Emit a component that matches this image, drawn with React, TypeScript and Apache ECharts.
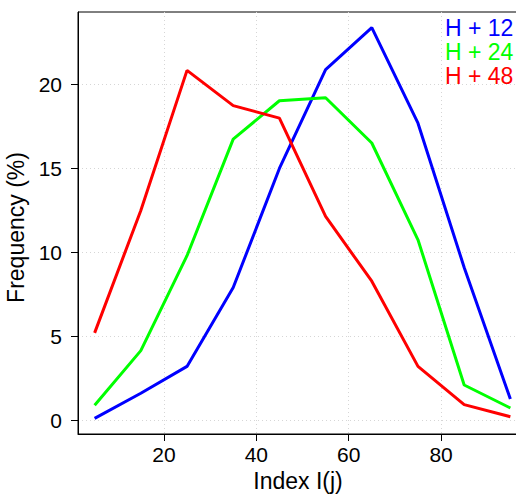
import React, { useEffect, useRef } from "react";
import * as echarts from "echarts";

const indexValues = [5, 15, 25, 35, 45, 55, 65, 75, 85, 95];
const seriesNames = ["H + 12", "H + 24", "H + 48"];
const h12 = [0.1, 1.6, 3.2, 7.9, 15.0, 20.9, 23.4, 17.7, 9.1, 1.25];
const h24 = [0.88, 4.14, 9.8, 16.75, 19.04, 19.22, 16.52, 10.75, 2.09, 0.72];
const h48 = [5.2, 12.5, 20.85, 18.75, 18.0, 12.14, 8.28, 3.2, 0.92, 0.2];
const xTicks = [20, 40, 60, 80];
const yTicks = [0, 5, 10, 15, 20];
const colors = ["#0000ff", "#00ff00", "#ff0000"];

const FONT = "'Liberation Sans', Arial, Helvetica, sans-serif";

export default function App() {
  const ref = useRef<HTMLDivElement>(null);
  useEffect(() => {
    if (!ref.current) return;
    const chart = echarts.init(ref.current, undefined, { renderer: "svg" });
    const allSeries = [h12, h24, h48];
    chart.setOption({
      animation: false,
      backgroundColor: "#ffffff",
      textStyle: { fontFamily: FONT },
      grid: {
        left: 78,
        top: 12,
        width: 449,
        bottom: 60,
        containLabel: false,
        outerBoundsMode: "none",
        show: true,
        borderColor: "#000000",
        borderWidth: 1,
        backgroundColor: "transparent",
      },
      legend: {
        orient: "vertical",
        left: 440,
        top: 16,
        padding: 0,
        itemGap: 1,
        itemWidth: 0,
        itemHeight: 0,
        selectedMode: false,
        data: seriesNames.map((n, i) => ({
          name: n,
          icon: "rect",
          itemStyle: { opacity: 0 },
          textStyle: {
            color: colors[i],
            fontSize: 23,
            lineHeight: 22,
            fontFamily: FONT,
          },
        })),
      },
      xAxis: {
        type: "value",
        min: 1.4,
        max: 98.6,
        name: "Index I(j)",
        nameLocation: "middle",
        nameGap: 33,
        nameTextStyle: {
          fontSize: 23,
          color: "#000",
          fontFamily: FONT,
          padding: [0, 9, 0, 0],
        },
        axisLine: { show: true, onZero: false, lineStyle: { color: "#000", width: 1 } },
        axisTick: {
          show: true,
          length: 7,
          customValues: xTicks,
          lineStyle: { color: "#000", width: 1 },
        },
        axisLabel: {
          customValues: xTicks,
          margin: 10,
          fontSize: 21,
          color: "#000",
          fontFamily: FONT,
        },
        splitLine: {
          show: true,
          lineStyle: { color: "#d6d6d6", type: [1, 3], width: 1 },
        },
      },
      yAxis: {
        type: "value",
        min: -0.83,
        max: 24.33,
        name: "Frequency (%)",
        nameLocation: "middle",
        nameGap: 40,
        nameTextStyle: {
          fontSize: 23,
          color: "#000",
          fontFamily: FONT,
          padding: [0, 9, 0, 0],
        },
        axisLine: { show: true, onZero: false, lineStyle: { color: "#000", width: 1 } },
        axisTick: {
          show: true,
          length: 7,
          customValues: yTicks,
          lineStyle: { color: "#000", width: 1 },
        },
        axisLabel: {
          customValues: yTicks,
          margin: 16,
          fontSize: 21,
          color: "#000",
          fontFamily: FONT,
        },
        splitLine: {
          show: true,
          lineStyle: { color: "#d6d6d6", type: [1, 3], width: 1 },
        },
      },
      series: allSeries.map((vals, i) => ({
        name: seriesNames[i],
        type: "line",
        symbol: "none",
        color: colors[i],
        lineStyle: { color: colors[i], width: 3 },
        data: indexValues.map((x, k) => [x, vals[k]]),
      })),
    });
    return () => chart.dispose();
  }, []);
  return (
    <div
      ref={ref}
      style={{ position: "fixed", left: 0, top: 0, width: 516, height: 494, background: "#fff" }}
    />
  );
}
